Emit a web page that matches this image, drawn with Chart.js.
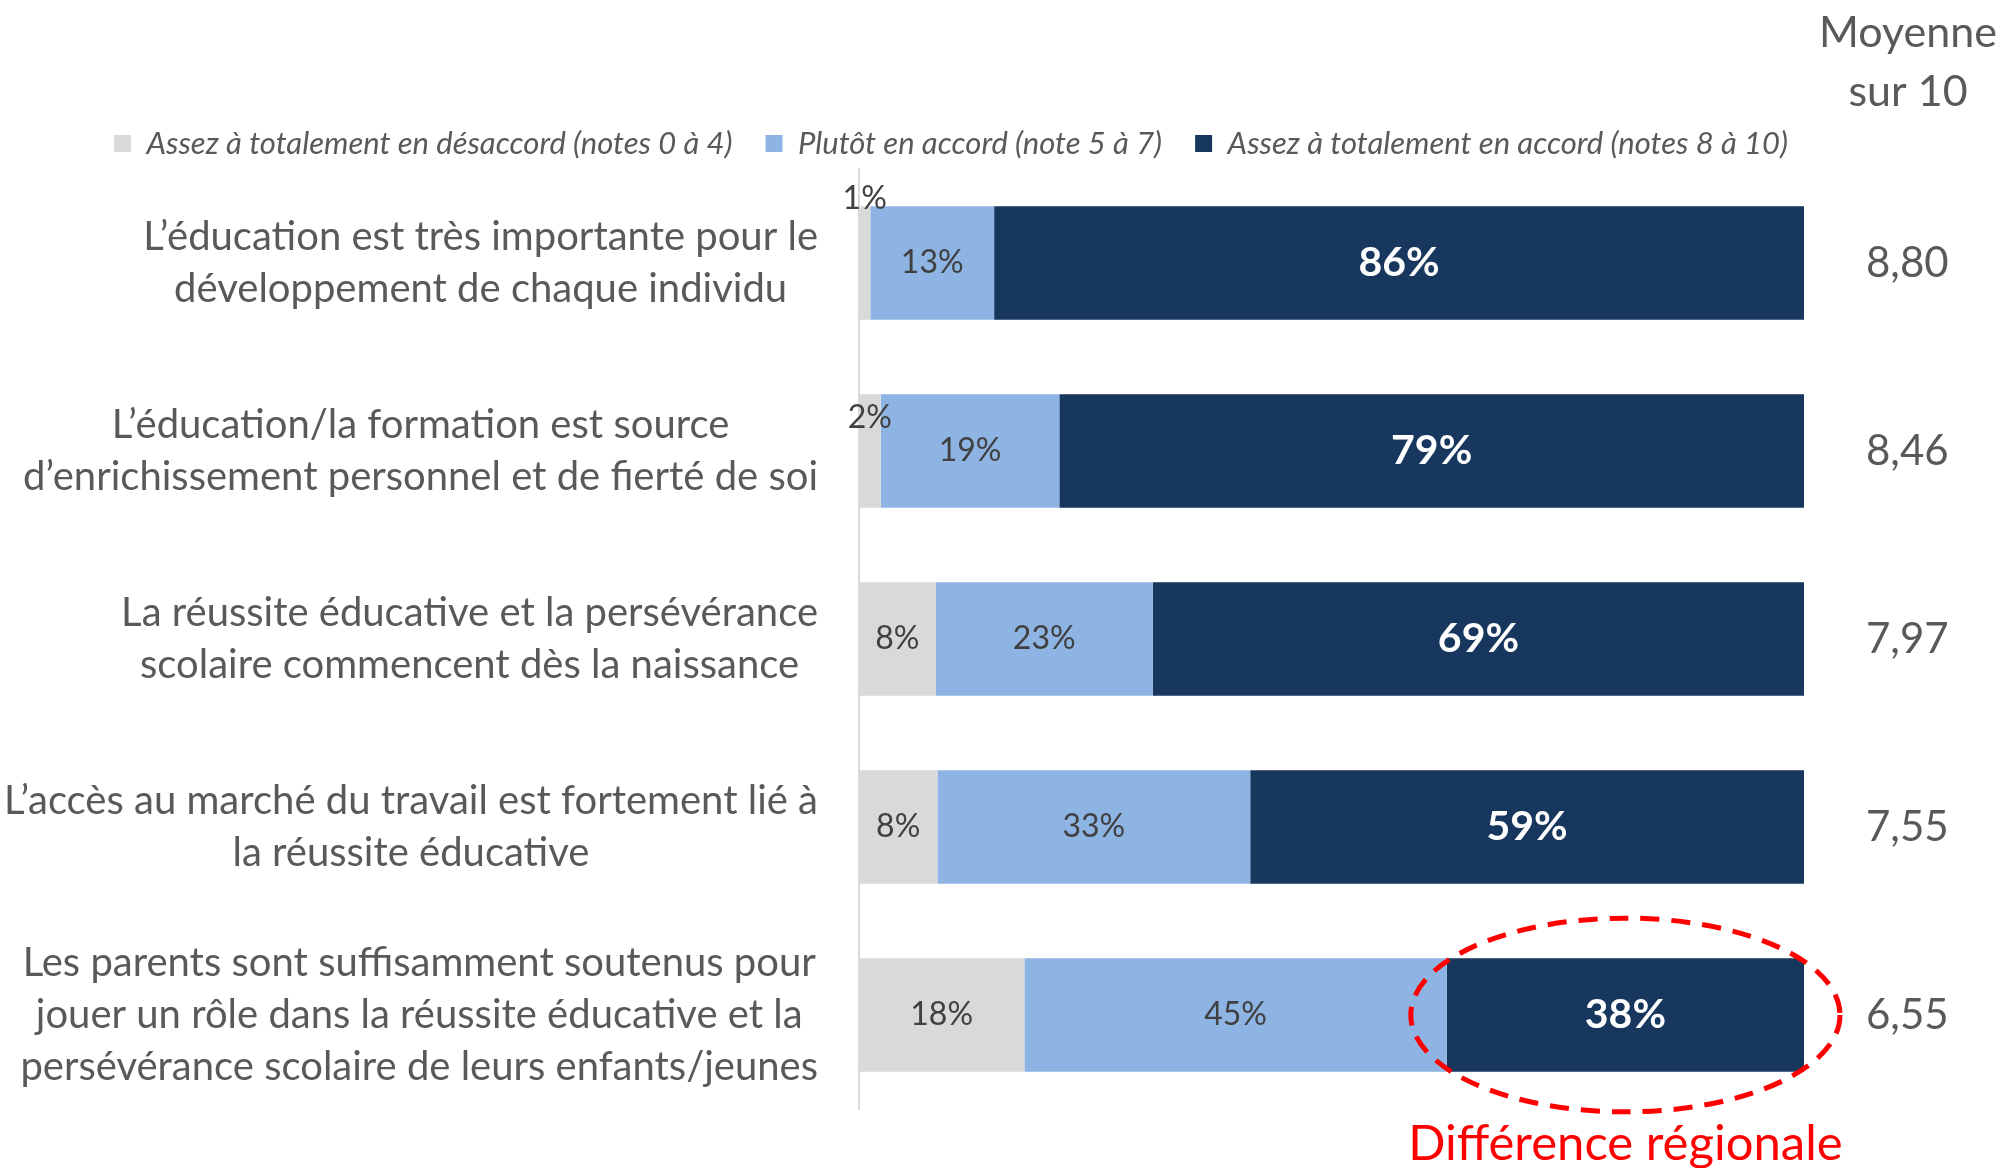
<!DOCTYPE html>
<html lang="fr">
<head>
<meta charset="UTF-8">
<title>Réussite éducative</title>
<script src="https://cdn.jsdelivr.net/npm/chart.js"></script>
<style>
    body { margin: 0; background: #ffffff; }
    #wrap { width: 2005px; height: 1168px; }
</style>
</head>
<body>
<div id="wrap"><canvas id="eduChart" width="2005" height="1168"></canvas></div>
<script>
    // chart data
    const categories = [
        ["L’éducation est très importante pour le", "développement de chaque individu"],
        ["L’éducation/la formation est source", "d’enrichissement personnel et de fierté de soi"],
        ["La réussite éducative et la persévérance", "scolaire commencent dès la naissance"],
        ["L’accès au marché du travail est fortement lié à", "la réussite éducative"],
        ["Les parents sont suffisamment soutenus pour", "jouer un rôle dans la réussite éducative et la", "persévérance scolaire de leurs enfants/jeunes"]
    ];
    const seriesNames = [
        "Assez à totalement en désaccord (notes 0 à 4)",
        "Plutôt en accord (note 5 à 7)",
        "Assez à totalement en accord (notes 8 à 10)"
    ];
    const disagree = [1.2, 2.3, 8.1, 8.3, 17.5];
    const somewhatAgree = [13.1, 18.9, 23.0, 33.1, 44.7];
    const agree = [85.7, 78.8, 68.9, 58.6, 37.8];
    const averages = ["8,80", "8,46", "7,97", "7,55", "6,55"];
    const averageTitle = ["Moyenne", "sur 10"];
    const highlightNote = "Différence régionale";

    const FONT = "Lato, 'Open Sans', sans-serif";
    Chart.defaults.font.family = FONT;

    // category labels: block right-aligned, lines centred inside the block
    const categoryLabels = {
        id: 'categoryLabels',
        afterDraw(chart) {
            const ctx = chart.ctx;
            const yScale = chart.scales.y;
            const right = chart.chartArea.left - 41;
            const lineH = 52;
            ctx.save();
            ctx.font = "40px " + FONT;
            ctx.fillStyle = '#595959';
            ctx.textAlign = 'center';
            ctx.textBaseline = 'middle';
            categories.forEach((lines, i) => {
                const w = Math.max(...lines.map(l => ctx.measureText(l).width));
                const cx = right - w / 2;
                const cy = yScale.getPixelForTick(i);
                lines.forEach((l, j) => {
                    ctx.fillText(l, cx, cy + (j - (lines.length - 1) / 2) * lineH);
                });
            });
            ctx.restore();
        }
    };

    // value labels inside the bars
    const valueLabels = {
        id: 'valueLabels',
        afterDatasetsDraw(chart) {
            const ctx = chart.ctx;
            const nudge = {0: -7, 1: 24};
            ctx.save();
            ctx.textAlign = 'center';
            ctx.textBaseline = 'middle';
            chart.data.datasets.forEach((ds, d) => {
                const meta = chart.getDatasetMeta(d);
                meta.data.forEach((el, i) => {
                    const v = ds.data[i];
                    const txt = Math.round(v) + '%';
                    let x = (el.x + el.base) / 2;
                    let y = el.y;
                    if (d === 2) {
                        ctx.font = "bold 41px " + FONT;
                        ctx.fillStyle = '#ffffff';
                    } else {
                        ctx.font = "32px " + FONT;
                        ctx.fillStyle = '#404040';
                    }
                    if (d === 0 && v < 5) {
                        y = el.y - el.height / 2 + (nudge[i] || 0);
                    }
                    ctx.fillText(txt, x, y);
                });
            });
            ctx.restore();
        }
    };

    // column title and the highlight
    const extras = {
        id: 'extras',
        afterDraw(chart) {
            const ctx = chart.ctx;
            const colX = 1908;
            ctx.save();
            ctx.fillStyle = '#595959';
            ctx.textAlign = 'center';
            ctx.textBaseline = 'middle';
            ctx.font = "43px " + FONT;
            ctx.fillText(averageTitle[0], colX, 33);
            ctx.fillText(averageTitle[1], colX, 92);

            // dashed ellipse around the last dark segment
            const el = chart.getDatasetMeta(2).data[4];
            const cx = (el.x + el.base) / 2;
            const rx = (el.x - el.base) / 2 + 36;
            const ry = el.height / 2 + 40;
            ctx.strokeStyle = '#ff0000';
            ctx.lineWidth = 5;
            ctx.setLineDash([19, 12]);
            ctx.beginPath();
            ctx.ellipse(cx, el.y, rx, ry, 0, 0, Math.PI * 2);
            ctx.stroke();
            ctx.setLineDash([]);

            ctx.fillStyle = '#ff0000';
            ctx.font = "49px " + FONT;
            ctx.textBaseline = 'alphabetic';
            ctx.fillText(highlightNote, cx, el.y + ry + 48);
            ctx.restore();
        }
    };

    const ctx = document.getElementById('eduChart').getContext('2d');
    const chart = new Chart(ctx, {
        type: 'bar',
        data: {
            labels: categories,
            datasets: [
                { label: seriesNames[0], data: disagree, backgroundColor: '#d9d9d9' },
                { label: seriesNames[1], data: somewhatAgree, backgroundColor: '#8eb4e3' },
                { label: seriesNames[2], data: agree, backgroundColor: '#17375e' }
            ]
        },
        options: {
            indexAxis: 'y',
            responsive: false,
            animation: false,
            datasets: {
                bar: { barPercentage: 1, categoryPercentage: 0.605, borderWidth: 0 }
            },
            layout: {
                padding: { top: 95, left: 81, right: 0, bottom: 59 }
            },
            scales: {
                x: {
                    stacked: true,
                    min: 0,
                    max: 100,
                    display: false
                },
                y: {
                    stacked: true,
                    grid: { display: false },
                    border: { display: true, color: '#d9d9d9', width: 2 },
                    ticks: { display: false },
                    afterFit(scale) { scale.width = 778; }
                },
                y2: {
                    type: 'category',
                    position: 'right',
                    labels: averages,
                    offset: true,
                    grid: { display: false, drawTicks: false },
                    border: { display: false },
                    ticks: {
                        color: '#595959',
                        crossAlign: 'center',
                        padding: 62,
                        font: { size: 42 }
                    },
                    afterFit(scale) {
                        scale.width = 201;
                        scale.paddingTop = 0;
                        scale.paddingBottom = 0;
                    }
                }
            },
            plugins: {
                legend: {
                    position: 'top',
                    align: 'start',
                    labels: {
                        boxWidth: 17,
                        boxHeight: 17,
                        padding: 33,
                        color: '#595959',
                        font: { size: 31, style: 'italic' }
                    }
                },
                tooltip: { enabled: false }
            }
        },
        plugins: [categoryLabels, valueLabels, extras]
    });
</script>
</body>
</html>
